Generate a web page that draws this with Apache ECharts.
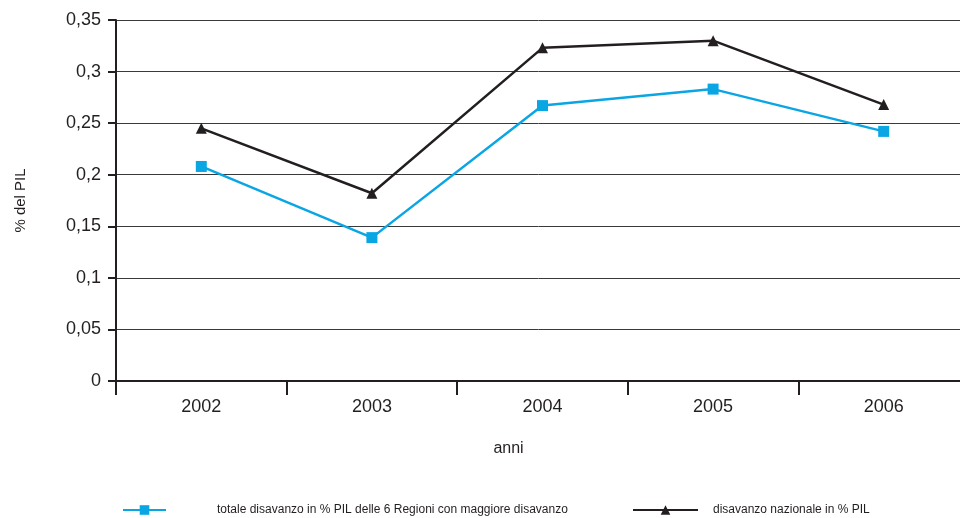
<!DOCTYPE html>
<html>
<head>
<meta charset="utf-8">
<script src="https://cdn.jsdelivr.net/npm/echarts@6/dist/echarts.min.js"></script>
<style>
  html, body { margin: 0; padding: 0; background: #fff; }
  #chart { width: 960px; height: 518px; }
</style>
</head>
<body>
<div id="chart"></div>
<script>
// dati
const anni = ['2002', '2003', '2004', '2005', '2006']
const regioni = [0.208, 0.139, 0.267, 0.283, 0.242]
const nazionale = [0.245, 0.182, 0.323, 0.330, 0.268]

const nomeRegioni = 'totale disavanzo in % PIL delle 6 Regioni con maggiore disavanzo'
const nomeNazionale = 'disavanzo nazionale in % PIL'

const blu = '#0AA6E4'
const nero = '#231F20'
const font = 'Liberation Sans, Arial, sans-serif'

function virgola(v) {
  return String(+v.toFixed(2)).replace('.', ',')
}

const chart = echarts.init(document.getElementById('chart'))
chart.setOption({
  animation: false,
  backgroundColor: '#fff',
  grid: { left: 116, width: 853, top: 20, bottom: 137, containLabel: false, outerBoundsMode: 'none' },
  legend: [
    {
      data: [nomeRegioni],
      left: 117, top: 499,
      itemWidth: 43, itemHeight: 12,
      textStyle: { fontFamily: font, fontSize: 12, color: '#231F20', padding: [0, 0, 0, 46] }
    },
    {
      data: [nomeNazionale],
      left: 627, top: 499,
      itemWidth: 65, itemHeight: 12,
      textStyle: { fontFamily: font, fontSize: 12, color: '#231F20', padding: [0, 0, 0, 10] }
    }
  ],
  xAxis: {
    type: 'category',
    data: anni,
    boundaryGap: true,
    name: 'anni',
    nameLocation: 'middle',
    nameGap: 60,
    nameTextStyle: { fontFamily: font, fontSize: 16, color: '#231F20', padding: [0, 68, 0, 0] },
    axisLine: { lineStyle: { color: nero, width: 2 } },
    axisTick: { show: true, length: 14, lineStyle: { color: nero, width: 2 } },
    axisLabel: { margin: 17, fontFamily: font, fontSize: 18, color: '#231F20' },
    splitLine: { show: false }
  },
  yAxis: {
    type: 'value',
    min: 0, max: 0.35, interval: 0.05,
    name: '% del PIL',
    nameLocation: 'middle',
    nameRotate: 90,
    nameGap: 88,
    nameTextStyle: { fontFamily: font, fontSize: 15, color: '#231F20' },
    axisLine: { show: true, lineStyle: { color: nero, width: 2 } },
    axisTick: { show: true, length: 8, lineStyle: { color: nero, width: 2 } },
    axisLabel: { margin: 15, fontFamily: font, fontSize: 18, color: '#231F20', formatter: virgola },
    splitLine: { show: true, lineStyle: { color: '#3a3a3a', width: 1 } }
  },
  series: [
    {
      name: nomeRegioni,
      type: 'line',
      data: regioni,
      color: blu,
      lineStyle: { width: 2.5, color: blu },
      symbol: 'rect', symbolSize: 11,
      itemStyle: { color: blu }
    },
    {
      name: nomeNazionale,
      type: 'line',
      data: nazionale,
      color: nero,
      lineStyle: { width: 2.5, color: nero },
      symbol: 'triangle', symbolSize: 11,
      itemStyle: { color: nero }
    }
  ]
})
</script>
</body>
</html>
